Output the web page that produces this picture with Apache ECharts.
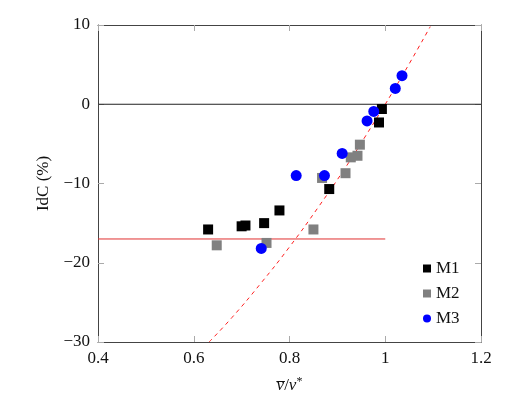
<!DOCTYPE html>
<html>
<head>
<meta charset="utf-8">
<script src="https://cdn.jsdelivr.net/npm/echarts@6/dist/echarts.min.js"></script>
<style>html,body{margin:0;padding:0;background:#fff;}#c{width:513px;height:418px;}</style>
</head>
<body>
<div id="c"></div>
<script>
const xTicks = [0.4, 0.6, 0.8, 1, 1.2];
const yTicks = [-30, -20, -10, 0, 10];
const m1 = [[0.630,-15.8],[0.700,-15.4],[0.708,-15.3],[0.747,-15.0],[0.779,-13.4],[0.883,-10.7],[0.987,-2.3],[0.993,-0.6]];
const m2 = [[0.648,-17.8],[0.752,-17.5],[0.850,-15.8],[0.868,-9.3],[0.917,-8.7],[0.928,-6.7],[0.942,-6.5],[0.947,-5.1]];
const m3 = [[0.741,-18.2],[0.814,-9.0],[0.873,-9.0],[0.910,-6.2],[0.962,-2.1],[0.976,-0.9],[1.021,2.0],[1.035,3.6]];
const curve = [[0.632,-30],[0.68,-26.9],[0.74,-22.6],[0.8,-18.0],[0.86,-13.0],[0.92,-7.7],[0.96,-3.9],[1.0,0],[1.05,5.1],[1.094,9.8]];
const zeroLine = [[0.4,0],[1.2,0]];
const refLine = [[0.4,-17],[1.0,-17]];

const FONT = "'Liberation Serif', 'DejaVu Serif', serif";
const chart = echarts.init(document.getElementById('c'), null, {renderer:'canvas'});
function axisLineCfg(){ return {show:true, onZero:false, lineStyle:{color:'#444', width:1}}; }
function tickCfg(){ return {show:true, inside:true, length:6, lineStyle:{color:'#aaa', width:1}}; }
chart.setOption({
  animation:false,
  backgroundColor:'#fff',
  grid:{left:98, right:32, top:25, bottom:76},
  xAxis:[
    {type:'value', min:0.4, max:1.2, interval:0.2, position:'bottom',
      axisLine:axisLineCfg(), axisTick:tickCfg(), splitLine:{show:false},
      name:'{v|v\u0305}{s|/}{v|v}{sup|*}', nameLocation:'middle', nameGap:34,
      nameTextStyle:{rich:{v:{fontFamily:FONT, fontStyle:'italic', fontSize:17, color:'#111'}, s:{fontFamily:FONT, fontSize:17, color:'#111'}, sup:{fontFamily:FONT, fontSize:12, color:'#111', verticalAlign:'top', padding:[0,0,8,0]}}},
      axisLabel:{fontFamily:FONT, fontSize:17, color:'#111', margin:8, formatter:v=>String(Math.round(v*10)/10)}},
    {type:'value', min:0.4, max:1.2, interval:0.2, position:'top',
      axisLine:axisLineCfg(), axisTick:tickCfg(), splitLine:{show:false}, axisLabel:{show:false}}
  ],
  yAxis:[
    {type:'value', min:-30, max:10, interval:10, position:'left',
      axisLine:axisLineCfg(), axisTick:tickCfg(), splitLine:{show:false},
      name:'IdC (%)', nameLocation:'middle', nameGap:44, nameRotate:90,
      nameTextStyle:{fontFamily:FONT, fontSize:17, color:'#111'},
      axisLabel:{fontFamily:FONT, fontSize:17, color:'#111', margin:8, formatter:v=>String(v).replace('-','\u2212')}},
    {type:'value', min:-30, max:10, interval:10, position:'right',
      axisLine:axisLineCfg(), axisTick:tickCfg(), splitLine:{show:false}, axisLabel:{show:false}}
  ],
  legend:{
    orient:'vertical', left:418, top:255, itemWidth:8, itemHeight:8, itemGap:8,
    textStyle:{fontFamily:FONT, fontSize:17, lineHeight:17, color:'#111'},
    data:[{name:'M1', icon:'rect'},{name:'M2', icon:'rect'},{name:'M3', icon:'circle'}]
  },
  series:[
    {type:'line', data:zeroLine, symbol:'none', lineStyle:{color:'#222', width:1}, silent:true, z:1},
    {type:'line', data:refLine, symbol:'none', lineStyle:{color:'#e03030', width:1}, silent:true, z:1},
    {type:'line', data:curve, symbol:'none', smooth:true, lineStyle:{color:'#ff2020', width:1, type:[4,4]}, silent:true, z:1},
    {name:'M1', type:'scatter', data:m1, symbol:'rect', symbolSize:10, itemStyle:{color:'#000', opacity:1}, z:3},
    {name:'M2', type:'scatter', data:m2, symbol:'rect', symbolSize:10, itemStyle:{color:'#808080', opacity:1}, z:3},
    {name:'M3', type:'scatter', data:m3, symbol:'circle', symbolSize:11, itemStyle:{color:'#0000ff', opacity:1}, z:4}
  ]
});
</script>
</body>
</html>
